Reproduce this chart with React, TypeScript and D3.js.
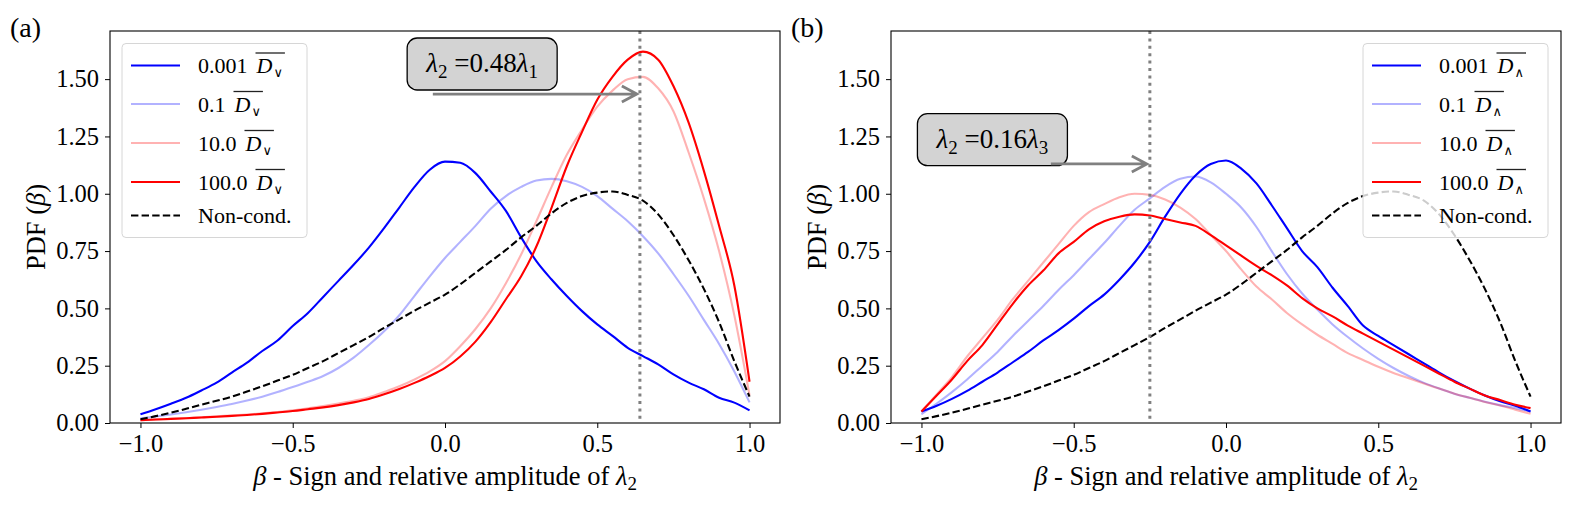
"use client";

import React, { useEffect, useRef } from 'react';
import * as d3 from 'd3';

// beta grid shared by every curve
const BETA = [
  -1.0, -0.95, -0.9, -0.85, -0.8, -0.75, -0.7, -0.65, -0.6, -0.55,
  -0.5, -0.45, -0.4, -0.35, -0.3, -0.25, -0.2, -0.15, -0.1, -0.05,
  0.0, 0.05, 0.1, 0.15, 0.2, 0.25, 0.3, 0.35, 0.4, 0.45,
  0.5, 0.55, 0.6, 0.65, 0.7, 0.75, 0.8, 0.85, 0.9, 0.95, 1.0,
];

// panel (a): conditioned on D_vee
const blueA = [
  0.038, 0.06, 0.084, 0.11, 0.142, 0.176, 0.22, 0.263, 0.314, 0.36,
  0.423, 0.48, 0.55, 0.62, 0.69, 0.765, 0.85, 0.94, 1.03, 1.105,
  1.14, 1.135, 1.09, 1.01, 0.925, 0.81, 0.706, 0.626, 0.554, 0.488,
  0.43, 0.38, 0.328, 0.292, 0.256, 0.212, 0.176, 0.147, 0.11, 0.089, 0.055,
];
const lightBlueA = [
  0.02, 0.028, 0.037, 0.047, 0.058, 0.07, 0.083, 0.098, 0.115, 0.135,
  0.157, 0.18, 0.205, 0.24, 0.285, 0.34, 0.4, 0.47, 0.555, 0.64,
  0.72, 0.79, 0.86, 0.935, 0.99, 1.03, 1.058, 1.065, 1.055, 1.03,
  0.99, 0.935, 0.88, 0.815, 0.74, 0.65, 0.555, 0.45, 0.345, 0.225, 0.09,
];
const pinkA = [
  0.012, 0.015, 0.018, 0.021, 0.025, 0.029, 0.033, 0.037, 0.042, 0.048,
  0.055, 0.064, 0.074, 0.085, 0.097, 0.112, 0.135, 0.16, 0.19, 0.225,
  0.27, 0.335, 0.41, 0.5, 0.61, 0.735, 0.88, 1.03, 1.17, 1.28,
  1.38, 1.45, 1.5, 1.51, 1.46, 1.36, 1.18, 0.98, 0.75, 0.47, 0.12,
];
const redA = [
  0.012, 0.015, 0.018, 0.021, 0.024, 0.027, 0.031, 0.035, 0.04, 0.046,
  0.052, 0.06, 0.068, 0.078, 0.09, 0.105, 0.125, 0.148, 0.175, 0.205,
  0.24, 0.29, 0.355, 0.44, 0.54, 0.64, 0.77, 0.94, 1.12, 1.27,
  1.41, 1.51, 1.585, 1.62, 1.585, 1.47, 1.31, 1.1, 0.86, 0.6, 0.18,
];

// panel (b): conditioned on D_wedge
const blueB = [
  0.05, 0.075, 0.105, 0.14, 0.18, 0.22, 0.265, 0.31, 0.36, 0.405,
  0.455, 0.51, 0.56, 0.625, 0.7, 0.79, 0.9, 1.0, 1.08, 1.13,
  1.145, 1.11, 1.045, 0.95, 0.85, 0.75, 0.68, 0.59, 0.51, 0.425,
  0.38, 0.34, 0.3, 0.26, 0.22, 0.183, 0.15, 0.12, 0.095, 0.075, 0.05,
];
const lightBlueB = [
  0.038, 0.085, 0.135, 0.19, 0.25, 0.31, 0.38, 0.445, 0.51, 0.58,
  0.645, 0.715, 0.785, 0.86, 0.93, 0.98, 1.03, 1.065, 1.075, 1.05,
  1.0, 0.94, 0.855, 0.75, 0.65, 0.565, 0.495, 0.43, 0.375, 0.325,
  0.28, 0.24, 0.205, 0.175, 0.15, 0.128, 0.11, 0.093, 0.078, 0.065, 0.05,
];
const pinkB = [
  0.05, 0.125, 0.2, 0.29, 0.37, 0.45, 0.54, 0.62, 0.7, 0.78,
  0.86, 0.92, 0.955, 0.985, 1.0, 0.995, 0.975, 0.94, 0.89, 0.82,
  0.75, 0.67, 0.595, 0.54, 0.48, 0.43, 0.385, 0.345, 0.305, 0.275,
  0.245, 0.218, 0.195, 0.172, 0.15, 0.128, 0.11, 0.092, 0.076, 0.058, 0.04,
];
const redB = [
  0.05, 0.12, 0.19, 0.27, 0.34, 0.43, 0.52, 0.6, 0.665, 0.74,
  0.79, 0.845, 0.88, 0.9, 0.91, 0.905, 0.89, 0.875, 0.86, 0.82,
  0.775, 0.73, 0.685, 0.645, 0.6, 0.545, 0.5, 0.465, 0.425, 0.39,
  0.355, 0.32, 0.285, 0.25, 0.215, 0.18, 0.15, 0.12, 0.1, 0.08, 0.065,
];

// unconditioned PDF (same in both panels)
const nonCond = [
  0.016, 0.03, 0.045, 0.062, 0.08, 0.097, 0.115, 0.137, 0.16, 0.185,
  0.21, 0.24, 0.27, 0.305, 0.34, 0.375, 0.415, 0.452, 0.49, 0.525,
  0.56, 0.605, 0.655, 0.705, 0.755, 0.81, 0.86, 0.915, 0.96, 0.99,
  1.005, 1.01, 0.995, 0.97, 0.91, 0.82, 0.71, 0.585, 0.44, 0.27, 0.115,
];

const legendScales = ['0.001', '0.1', '10.0', '100.0'];
const yTicks = [0, 0.25, 0.5, 0.75, 1.0, 1.25, 1.5];
const xTicks = [-1.0, -0.5, 0.0, 0.5, 1.0];

const FONT = "'Liberation Serif', 'DejaVu Serif', serif";
const PLOT_TOP = 31;
const PLOT_BOTTOM = 423;
const PLOT_W = 670;
const Y_MAX = 1.71;

const STYLES = [
  { color: '#0000ff', opacity: 1, dash: null as string | null },
  { color: '#0000ff', opacity: 0.3, dash: null },
  { color: '#ff0000', opacity: 0.3, dash: null },
  { color: '#ff0000', opacity: 1, dash: null },
  { color: '#000000', opacity: 1, dash: '7.4,3.2' },
];

const LEGEND_ROWS = [22, 60.5, 99.5, 138.5, 172];

const PANELS = [
  {
    id: '(a)', left: 110, legendX: 122, sub: '\u2228',
    series: [blueA, lightBlueA, pinkA, redA, nonCond],
    marker: 0.64, ratio: '0.48', idx: '1',
    box: [0.122, 1.566], arrow: [-0.04, 0.63, 1.435],
  },
  {
    id: '(b)', left: 891, legendX: 1363, sub: '\u2227',
    series: [blueB, lightBlueB, pinkB, redB, nonCond],
    marker: -0.25, ratio: '0.16', idx: '3',
    box: [-0.767, 1.236], arrow: [-0.575, -0.26, 1.13],
  },
];

type Panel = typeof PANELS[number];

function drawPanel(svg: d3.Selection<SVGSVGElement, unknown, null, undefined>, p: Panel) {
  const x = d3.scaleLinear().domain([-1.1, 1.1]).range([p.left, p.left + PLOT_W]);
  const y = d3.scaleLinear().domain([0, Y_MAX]).range([PLOT_BOTTOM, PLOT_TOP]);
  const g = svg.append('g');

  // curves
  const line = d3.line<number>()
    .x((_, i) => x(BETA[i]))
    .y(d => y(d))
    .curve(d3.curveMonotoneX);

  p.series.forEach((vals, i) => {
    const s = STYLES[i];
    g.append('path')
      .attr('d', line(vals))
      .attr('fill', 'none')
      .attr('stroke', s.color)
      .attr('stroke-opacity', s.opacity)
      .attr('stroke-width', 2.1)
      .attr('stroke-dasharray', s.dash)
      .attr('stroke-linejoin', 'round');
  });

  // dotted vertical marker
  g.append('line')
    .attr('x1', x(p.marker)).attr('x2', x(p.marker))
    .attr('y1', PLOT_TOP).attr('y2', PLOT_BOTTOM)
    .attr('stroke', '#808080')
    .attr('stroke-width', 3)
    .attr('stroke-dasharray', '3,4.4');

  // legend
  const lx = p.legendX;
  const ly = 43.5;
  g.append('rect')
    .attr('x', lx).attr('y', ly)
    .attr('width', 185).attr('height', 194)
    .attr('rx', 4)
    .attr('fill', '#ffffff').attr('fill-opacity', 0.8)
    .attr('stroke', '#d6d6d6').attr('stroke-width', 1);

  LEGEND_ROWS.forEach((off, i) => {
    const cy = ly + off;
    const s = STYLES[i];
    g.append('line')
      .attr('x1', lx + 9).attr('x2', lx + 58)
      .attr('y1', cy).attr('y2', cy)
      .attr('stroke', s.color)
      .attr('stroke-opacity', s.opacity)
      .attr('stroke-width', 2.1)
      .attr('stroke-dasharray', s.dash);

    const base = cy + 7.5;
    if (i < 4) {
      const num = g.append('text')
        .attr('x', lx + 76).attr('y', base)
        .attr('font-size', 22).attr('font-family', FONT)
        .text(legendScales[i]);
      const w = (num.node() as SVGTextElement).getComputedTextLength();
      const dx = lx + 76 + w + 9;
      const dT = g.append('text')
        .attr('x', dx).attr('y', base)
        .attr('font-size', 22).attr('font-style', 'italic').attr('font-family', FONT)
        .text('D');
      const dw = (dT.node() as SVGTextElement).getComputedTextLength();
      const sT = g.append('text')
        .attr('x', dx + dw + 1).attr('y', base + 4)
        .attr('font-size', 13).attr('font-family', FONT)
        .text(p.sub);
      const sw = (sT.node() as SVGTextElement).getComputedTextLength();
      g.append('line')
        .attr('x1', dx - 1).attr('x2', dx + dw + sw + 3)
        .attr('y1', base - 20).attr('y2', base - 20)
        .attr('stroke', '#222').attr('stroke-width', 1.3);
    } else {
      g.append('text')
        .attr('x', lx + 76).attr('y', base)
        .attr('font-size', 22).attr('font-family', FONT)
        .text('Non-cond.');
    }
  });

  // annotation box
  const bx = x(p.box[0]);
  const by = y(p.box[1]);
  g.append('rect')
    .attr('x', bx - 75).attr('y', by - 26)
    .attr('width', 150).attr('height', 52)
    .attr('rx', 10)
    .attr('fill', '#d3d3d3')
    .attr('stroke', '#000').attr('stroke-width', 1.3);
  const t = g.append('text')
    .attr('x', bx).attr('y', by + 8)
    .attr('text-anchor', 'middle')
    .attr('font-size', 27).attr('font-family', FONT);
  t.append('tspan').attr('font-style', 'italic').text('λ');
  t.append('tspan').attr('font-size', 19).attr('dy', 6).text('2');
  t.append('tspan').attr('dy', -6).text(' =' + p.ratio);
  t.append('tspan').attr('font-style', 'italic').text('λ');
  t.append('tspan').attr('font-size', 19).attr('dy', 6).text(p.idx);

  // arrow
  const ax0 = x(p.arrow[0]);
  const ax1 = x(p.arrow[1]);
  const ay = y(p.arrow[2]);
  g.append('path')
    .attr('d', `M${ax0},${ay}L${ax1},${ay}M${ax1 - 15},${ay - 8}L${ax1},${ay}L${ax1 - 15},${ay + 8}`)
    .attr('fill', 'none')
    .attr('stroke', '#808080')
    .attr('stroke-width', 2.8);

  // frame
  g.append('rect')
    .attr('x', p.left).attr('y', PLOT_TOP)
    .attr('width', PLOT_W).attr('height', PLOT_BOTTOM - PLOT_TOP)
    .attr('fill', 'none')
    .attr('stroke', '#000').attr('stroke-width', 1.1);

  // axes
  const xAxis = g.append('g')
    .attr('transform', `translate(0,${PLOT_BOTTOM})`)
    .call(d3.axisBottom(x).tickValues(xTicks).tickFormat(d3.format('.1f') as any).tickSize(5).tickPadding(7) as any);
  xAxis.select('.domain').remove();
  xAxis.attr('font-size', 24.5).attr('font-family', FONT);

  const yAxis = g.append('g')
    .attr('transform', `translate(${p.left},0)`)
    .call(d3.axisLeft(y).tickValues(yTicks).tickFormat(d3.format('.2f') as any).tickSize(5).tickPadding(6) as any);
  yAxis.select('.domain').remove();
  yAxis.attr('font-size', 24.5).attr('font-family', FONT);

  // axis labels
  const xl = g.append('text')
    .attr('x', p.left + PLOT_W / 2).attr('y', 485)
    .attr('text-anchor', 'middle')
    .attr('font-size', 26.5).attr('font-family', FONT);
  xl.append('tspan').attr('font-style', 'italic').text('β');
  xl.append('tspan').text(' - Sign and relative amplitude of ');
  xl.append('tspan').attr('font-style', 'italic').text('λ');
  xl.append('tspan').attr('font-size', 19).attr('dy', 5).text('2');

  const yl = g.append('text')
    .attr('transform', `translate(${p.left - 65},${(PLOT_TOP + PLOT_BOTTOM) / 2}) rotate(-90)`)
    .attr('text-anchor', 'middle')
    .attr('font-size', 26.5).attr('font-family', FONT);
  yl.append('tspan').text('PDF (');
  yl.append('tspan').attr('font-style', 'italic').text('β');
  yl.append('tspan').text(')');

  // panel tag
  g.append('text')
    .attr('x', p.left - 100).attr('y', 37)
    .attr('font-size', 28).attr('font-family', FONT)
    .text(p.id);
}

const App = () => {
  const svgRef = useRef<SVGSVGElement | null>(null);

  useEffect(() => {
    if (!svgRef.current) return;
    const svg = d3.select(svgRef.current);
    svg.selectAll('*').remove();
    PANELS.forEach(p => drawPanel(svg, p));
  }, []);

  return (
    <div style={{ position: 'absolute', left: 0, top: 0 }}>
      <svg ref={svgRef} width={1577} height={512} style={{ display: 'block', background: '#ffffff' }} />
    </div>
  );
};

export default App;
